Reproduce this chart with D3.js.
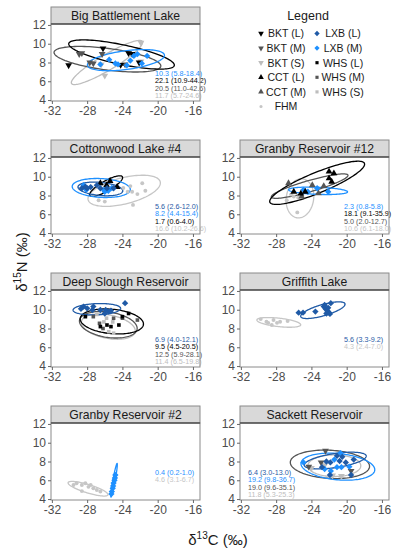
<!DOCTYPE html>
<html><head><meta charset="utf-8">
<script src="https://cdn.jsdelivr.net/npm/d3@7"></script>
<style>body{margin:0;background:#fff}svg{display:block;font-family:"Liberation Sans",Arial,sans-serif}</style>
</head><body><svg id="c" width="397" height="550"></svg>
<script>
// ---------- DATA ----------
const panelNames = ["Big Battlement Lake","Cottonwood Lake #4","Granby Reservoir #12","Deep Slough Reservoir","Griffith Lake","Granby Reservoir #2","Sackett Reservoir"];
const xTicks = [-32,-28,-24,-20,-16];
const yTicks = [4,6,8,10,12];
const legendGroups = ["BKT (L)","BKT (M)","BKT (S)","CCT (L)","CCT (M)","FHM","LXB (L)","LXB (M)","WHS (L)","WHS (M)","WHS (S)"];

// points: [group, d13C, d15N]
const bigBattlementPoints = [
 ["BKT (S)",-21.9,10.1],["BKT (S)",-26.0,6.6],["BKT (S)",-21.9,8.1],["BKT (S)",-26.4,7.8],
 ["BKT (M)",-28.9,8.9],["BKT (M)",-28.6,9.0],["BKT (M)",-27.7,8.0],["BKT (M)",-26.3,8.9],["BKT (M)",-27.3,7.9],["BKT (M)",-23.7,7.8],
 ["BKT (L)",-30.1,7.7],["BKT (L)",-26.2,9.5],["BKT (L)",-23.3,9.0],["BKT (L)",-22.9,8.9],["BKT (L)",-22.1,8.0],["BKT (L)",-24.2,7.75],
 ["LXB (M)",-26.5,7.8],["LXB (M)",-25.5,8.3],["LXB (M)",-24.5,7.8],["LXB (M)",-23.5,7.7],["LXB (M)",-23.1,8.2],["LXB (M)",-22.7,8.7],["LXB (M)",-22.3,8.9],["LXB (M)",-21.2,8.7],["LXB (M)",-21.8,7.9],["LXB (M)",-24.8,7.9]
];
const cottonwoodPoints = [
 ["FHM",-23.1,9.0],["FHM",-21.75,9.3],["FHM",-21.4,8.5],["FHM",-22.9,8.4],["FHM",-22.3,8.15],["FHM",-22.8,7.0],["FHM",-26.7,7.5],["FHM",-26.0,7.35],["FHM",-23.4,8.4],["FHM",-23.9,8.8],
 ["CCT (L)",-25.4,9.55],["CCT (L)",-26.5,9.3],["CCT (L)",-25.8,9.1],["CCT (L)",-24.6,8.9],
 ["LXB (M)",-28.4,9.1],["LXB (M)",-26.1,8.6],["LXB (M)",-26.0,8.4],["LXB (M)",-25.6,8.5],["LXB (M)",-25.2,8.8],["LXB (M)",-28.1,8.6],
 ["LXB (L)",-28.2,8.94],["LXB (L)",-28.6,8.77],["LXB (L)",-28.0,8.77],["LXB (L)",-26.9,9.1],["LXB (L)",-26.5,8.77],["LXB (L)",-25.75,8.77],["LXB (L)",-25.0,8.77],["LXB (L)",-27.6,8.9]
];
const granby12Points = [
 ["FHM",-26.8,7.5],["FHM",-25.6,6.2],["FHM",-26.3,8.1],["FHM",-26.0,7.9],["FHM",-25.5,7.8],
 ["CCT (M)",-25.1,7.9],["CCT (M)",-23.9,9.1],["CCT (M)",-23.2,8.24],["CCT (M)",-22.6,9.0],["CCT (M)",-26.6,9.3],
 ["LXB (M)",-24.4,8.4],["LXB (M)",-23.35,8.77],["LXB (M)",-22.1,8.4],["LXB (M)",-24.9,8.6],
 ["CCT (L)",-22.0,10.54],["CCT (L)",-21.45,10.36],["CCT (L)",-22.0,9.83],["CCT (L)",-21.7,9.47],["CCT (L)",-26.0,8.4],["CCT (L)",-24.7,8.4],["CCT (L)",-25.2,8.2]
];
const deepSloughPoints = [
 ["WHS (S)",-25.8,9.1],["WHS (S)",-25.55,7.66],["WHS (S)",-25.0,7.5],["WHS (S)",-26.1,8.7],["WHS (S)",-25.1,8.7],["WHS (S)",-26.9,9.5],
 ["WHS (M)",-26.6,8.55],["WHS (M)",-25.0,9.09],["WHS (M)",-26.2,8.0],["WHS (M)",-27.3,9.26],["WHS (M)",-24.0,9.1],["WHS (M)",-22.3,8.9],
 ["WHS (L)",-28.2,9.26],["WHS (L)",-25.75,8.37],["WHS (L)",-25.3,8.2],["WHS (L)",-26.5,8.2],["WHS (L)",-24.0,9.26],["WHS (L)",-23.3,9.6],["WHS (L)",-24.4,8.37],
 ["LXB (L)",-28.4,10.33],["LXB (L)",-28.0,10.15],["LXB (L)",-27.3,10.33],["LXB (L)",-26.5,9.97],["LXB (L)",-25.9,9.97],["LXB (L)",-25.55,9.8],["LXB (L)",-23.7,10.7],["LXB (L)",-27.4,9.97],["LXB (L)",-25.3,9.9],["LXB (L)",-26.0,9.6],["LXB (L)",-28.7,10.1]
];
const griffithPoints = [
 ["FHM",-29.75,9.0],["FHM",-29.1,8.72],["FHM",-28.3,8.9],["FHM",-28.5,8.37],["FHM",-27.55,8.72],["FHM",-26.7,8.8],["FHM",-27.9,8.6],["FHM",-28.9,8.6],
 ["LXB (L)",-25.45,9.69],["LXB (L)",-24.95,9.69],["LXB (L)",-23.55,9.8],["LXB (L)",-22.6,10.33],["LXB (L)",-22.4,10.1],["LXB (L)",-22.2,9.9],["LXB (L)",-22.0,9.7],["LXB (L)",-21.8,10.7],["LXB (L)",-21.9,9.55],["LXB (L)",-22.3,9.6],["LXB (L)",-22.1,10.2],["LXB (L)",-22.5,10.5]
];
const granby2Points = [
 ["FHM",-29.55,5.5],["FHM",-29.2,5.68],["FHM",-28.6,5.5],["FHM",-28.2,5.68],["FHM",-27.85,5.3],["FHM",-27.3,5.14],["FHM",-26.9,4.97],["FHM",-26.5,4.8],["FHM",-28.6,4.85],["FHM",-27.6,5.5],
 ["LXB (M)",-24.8,6.56],["LXB (M)",-24.85,6.25],["LXB (M)",-24.9,6.0],["LXB (M)",-25.0,5.7],["LXB (M)",-25.05,5.4],["LXB (M)",-25.1,5.15],["LXB (M)",-25.2,4.8],["LXB (M)",-25.25,4.55]
];
const sackettPoints = [
 ["BKT (S)",-21.6,6.5],["BKT (S)",-20.6,6.45],["BKT (S)",-22.5,7.6],["BKT (S)",-24.0,7.3],
 ["BKT (M)",-24.3,7.45],["BKT (M)",-22.4,9.15],["BKT (M)",-22.9,7.9],["BKT (M)",-19.5,7.0],
 ["LXB (M)",-24.9,7.9],["LXB (M)",-21.8,7.0],["LXB (M)",-21.1,7.4],["LXB (M)",-20.6,7.4],["LXB (M)",-21.4,8.2],["LXB (M)",-19.7,7.45],["LXB (M)",-20.7,8.9],["LXB (M)",-22.5,7.2],
 ["LXB (L)",-22.8,7.4],["LXB (L)",-21.85,7.9],["LXB (L)",-21.1,8.6],["LXB (L)",-20.8,8.05],["LXB (L)",-20.1,7.9],["LXB (L)",-20.5,8.5],["LXB (L)",-19.2,8.2],["LXB (L)",-19.5,6.56],["LXB (L)",-21.9,6.56],["LXB (L)",-22.3,8.0]
];

// ellipses: [group, centre d13C, centre d15N, semi-major, semi-minor, angle(deg)]
const bigBattlementEllipses = [["BKT (S)",-25.75,8.0,4.6,0.85,29],["BKT (M)",-25.7,8.35,6.1,1.15,-7],["BKT (L)",-24.1,8.85,6.1,1.05,-11],["LXB (M)",-23.6,8.25,4.4,1.0,7]];
const cottonwoodEllipses = [["FHM",-23.8,8.5,4.2,1.4,13],["CCT (L)",-25.85,9.0,2.1,0.55,28],["LXB (M)",-26.4,8.8,3.3,1.0,-3],["LXB (L)",-26.5,8.7,2.55,0.7,-5]];
const granby12Ellipses = [["FHM",-25.3,7.7,2.1,1.55,80],["CCT (M)",-24.2,9.0,4.5,0.6,15],["CCT (L)",-23.35,9.35,5.75,1.1,21],["LXB (M)",-23.25,8.5,3.35,0.38,-2]];
const deepSloughEllipses = [["WHS (S)",-25.6,8.2,3.1,1.25,-10],["WHS (M)",-25.6,8.4,3.3,1.35,-8],["WHS (L)",-25.2,8.75,3.6,1.3,-5],["LXB (L)",-26.9,10.05,2.7,0.6,2]];
const griffithEllipses = [["FHM",-27.7,8.65,2.5,0.45,-6],["LXB (L)",-22.7,9.95,2.6,0.6,15]];
const granby2Ellipses = [["FHM",-27.9,5.1,2.35,0.45,-16],["LXB (M)",-24.95,6.0,1.82,0.13,79]];
const sackettEllipses = [["BKT (S)",-21.4,7.55,3.0,1.15,0],["BKT (M)",-21.9,7.7,4.5,1.5,-3],["LXB (M)",-21.0,7.45,4.2,1.4,-5],["LXB (L)",-21.3,8.1,3.55,0.75,8]];

// SEA labels: [group, text]
const bigBattlementSEA = [["LXB (M)","10.3 (5.8-18.4)"],["BKT (L)","22.1 (10.9-44.2)"],["BKT (M)","20.5 (11.0-42.6)"],["BKT (S)","11.7 (5.7-24.6)"]];
const cottonwoodSEA = [["LXB (L)","5.6 (2.6-12.0)"],["LXB (M)","8.2 (4.4-15.4)"],["CCT (L)","1.7 (0.6-4.0)"],["FHM","16.6 (10.2-26.6)"]];
const granby12SEA = [["LXB (M)","2.3 (0.8-5.8)"],["CCT (L)","18.1 (9.1-35.9)"],["CCT (M)","5.0 (2.0-12.7)"],["FHM","10.6 (6.1-18.0)"]];
const deepSloughSEA = [["LXB (L)","6.9 (4.0-12.1)"],["WHS (L)","9.5 (4.5-20.5)"],["WHS (M)","12.5 (5.9-28.1)"],["WHS (S)","11.4 (6.5-19.8)"]];
const griffithSEA = [["LXB (L)","5.6 (3.3-9.2)"],["FHM","4.3 (2.4-7.0)"]];
const granby2SEA = [["LXB (M)","0.4 (0.2-1.0)"],["FHM","4.6 (3.1-6.7)"]];
const sackettSEA = [["LXB (L)","6.4 (3.0-13.0)"],["LXB (M)","19.2 (9.8-36.7)"],["BKT (M)","19.0 (9.6-35.1)"],["BKT (S)","11.8 (5.3-25.3)"]];

// ---------- STYLE / LAYOUT ----------
const style = {
 "BKT (L)":{shape:"down",color:"#000000"}, "BKT (M)":{shape:"down",color:"#555555"}, "BKT (S)":{shape:"down",color:"#bdbdbd"},
 "CCT (L)":{shape:"up",color:"#000000"}, "CCT (M)":{shape:"up",color:"#555555"}, "FHM":{shape:"circle",color:"#c6c6c6"},
 "LXB (L)":{shape:"diamond",color:"#1f5aa6"}, "LXB (M)":{shape:"diamond",color:"#1e90ff"},
 "WHS (L)":{shape:"square",color:"#000000"}, "WHS (M)":{shape:"square",color:"#555555"}, "WHS (S)":{shape:"square",color:"#bdbdbd"}
};
const panels = [
 {name:panelNames[0],row:0,col:0,pts:bigBattlementPoints,ell:bigBattlementEllipses,sea:bigBattlementSEA,labelX:-20.3},
 {name:panelNames[1],row:1,col:0,pts:cottonwoodPoints,ell:cottonwoodEllipses,sea:cottonwoodSEA,labelX:-20.3},
 {name:panelNames[2],row:1,col:1,pts:granby12Points,ell:granby12Ellipses,sea:granby12SEA,labelX:-20.3},
 {name:panelNames[3],row:2,col:0,pts:deepSloughPoints,ell:deepSloughEllipses,sea:deepSloughSEA,labelX:-20.3},
 {name:panelNames[4],row:2,col:1,pts:griffithPoints,ell:griffithEllipses,sea:griffithSEA,labelX:-20.3},
 {name:panelNames[5],row:3,col:0,pts:granby2Points,ell:granby2Ellipses,sea:granby2SEA,labelX:-20.3},
 {name:panelNames[6],row:3,col:1,pts:sackettPoints,ell:sackettEllipses,sea:sackettSEA,labelX:-31.2}
];
const colX = [51,240], pw = 149, ph = 77, rowTop = r => 24 + 133*r, stripH = 17;

const svg = d3.select("#c");
const defs = svg.append("defs");

function symbolPath(shape, size){
  if(shape==="down"||shape==="up") return d3.symbol(d3.symbolTriangle, size)();
  if(shape==="diamond") return d3.symbol(d3.symbolSquare, size)();
  if(shape==="square") return d3.symbol(d3.symbolSquare, size)();
  return d3.symbol(d3.symbolCircle, size)();
}
function symbolRot(shape){ return shape==="down"?180:(shape==="diamond"?45:0); }
const sizes = {down:20, up:20, diamond:20, square:13, circle:12};

panels.forEach((p,i)=>{
  const x0 = colX[p.col], y0 = rowTop(p.row);
  const x = d3.scaleLinear().domain([-32.1,-15.2]).range([x0, x0+pw]);
  const y = d3.scaleLinear().domain([3.9,12.1]).range([y0+ph, y0]);
  const g = svg.append("g");
  // strip
  g.append("rect").attr("x",x0).attr("y",y0-stripH).attr("width",pw).attr("height",stripH)
    .attr("fill","#d9d9d9").attr("stroke","#8a8a8a").attr("stroke-width",1);
  g.append("text").attr("x",x0+pw/2).attr("y",y0-stripH/2+4.4).attr("text-anchor","middle")
    .attr("font-size",12.2).attr("fill","#1a1a1a").text(p.name);
  // panel bg
  g.append("rect").attr("x",x0).attr("y",y0).attr("width",pw).attr("height",ph).attr("fill","#fff");
  // clip
  defs.append("clipPath").attr("id","clip"+i).append("rect").attr("x",x0).attr("y",y0).attr("width",pw).attr("height",ph);
  const inner = g.append("g").attr("clip-path","url(#clip"+i+")");
  // ellipses
  const line = d3.line().x(d=>x(d[0])).y(d=>y(d[1])).curve(d3.curveLinearClosed);
  const ts = d3.range(0, 2*Math.PI, Math.PI/60);
  p.ell.forEach(e=>{
    const [grp,cx,cy,a,b,ang] = e; const th = ang*Math.PI/180;
    const pts = ts.map(t=>[cx + a*Math.cos(t)*Math.cos(th) - b*Math.sin(t)*Math.sin(th),
                           cy + a*Math.cos(t)*Math.sin(th) + b*Math.sin(t)*Math.cos(th)]);
    inner.append("path").attr("d",line(pts)).attr("fill","none").attr("stroke",style[grp].color).attr("stroke-width",1.3);
  });
  // points
  p.pts.forEach(d=>{
    const s = style[d[0]];
    inner.append("path").attr("d",symbolPath(s.shape,sizes[s.shape]))
      .attr("transform",`translate(${x(d[1])},${y(d[2])}) rotate(${symbolRot(s.shape)})`)
      .attr("fill",s.color);
  });
  // SEA labels
  p.sea.forEach((d,k)=>{
    g.append("text").attr("x",x(p.labelX)).attr("y",y0+51.5+k*7.6).attr("font-size",7.2)
      .attr("fill",style[d[0]].color).text(d[1]);
  });
  // border
  g.append("rect").attr("x",x0).attr("y",y0).attr("width",pw).attr("height",ph)
    .attr("fill","none").attr("stroke","#8a8a8a").attr("stroke-width",1);
  g.append("line").attr("x1",x0).attr("x2",x0+pw).attr("y1",y0).attr("y2",y0).attr("stroke","#555").attr("stroke-width",1.3);
  // axes
  const ax = g.append("g").attr("transform",`translate(0,${y0+ph})`)
    .call(d3.axisBottom(x).tickValues(xTicks).tickSize(3).tickPadding(2).tickFormat(d=>String(d)));
  const ay = g.append("g").attr("transform",`translate(${x0},0)`)
    .call(d3.axisLeft(y).tickValues(yTicks).tickSize(3).tickPadding(2).tickFormat(d=>String(d)));
  [ax,ay].forEach(a=>{
    a.select(".domain").remove();
    a.selectAll("line").attr("stroke","#666");
    a.selectAll("text").attr("font-size",12).attr("fill","#4d4d4d").attr("font-family","Liberation Sans, Arial, sans-serif");
  });
});

// axis titles
svg.append("text").attr("x",218).attr("y",545).attr("text-anchor","middle").attr("font-size",15).attr("fill","#1a1a1a")
  .html('δ<tspan dy="-6" font-size="10">13</tspan><tspan dy="6">C (‰)</tspan>');
svg.append("text").attr("transform","translate(27,262) rotate(-90)").attr("text-anchor","middle").attr("font-size",15).attr("fill","#1a1a1a")
  .html('δ<tspan dy="-6" font-size="10">15</tspan><tspan dy="6">N (‰)</tspan>');

// legend
const lg = svg.append("g");
lg.append("text").attr("x",308).attr("y",20).attr("text-anchor","middle").attr("font-size",12.5).attr("fill","#1a1a1a").text("Legend");
const legCols = [{sx:261,tx:286},{sx:317,tx:343}];
legendGroups.forEach((grp,i)=>{
  const c = i<6?0:1, r = i<6?i:i-6;
  const yy = 33.5 + r*14.6;
  const s = style[grp];
  lg.append("path").attr("d",symbolPath(s.shape, s.shape==="circle"?8:(s.shape==="square"?10:14)))
    .attr("transform",`translate(${legCols[c].sx},${yy}) rotate(${symbolRot(s.shape)})`).attr("fill",s.color);
  lg.append("text").attr("x",legCols[c].tx).attr("y",yy+3.8).attr("text-anchor","middle").attr("font-size",10.5).attr("fill","#1a1a1a").text(grp);
});
</script></body></html>
